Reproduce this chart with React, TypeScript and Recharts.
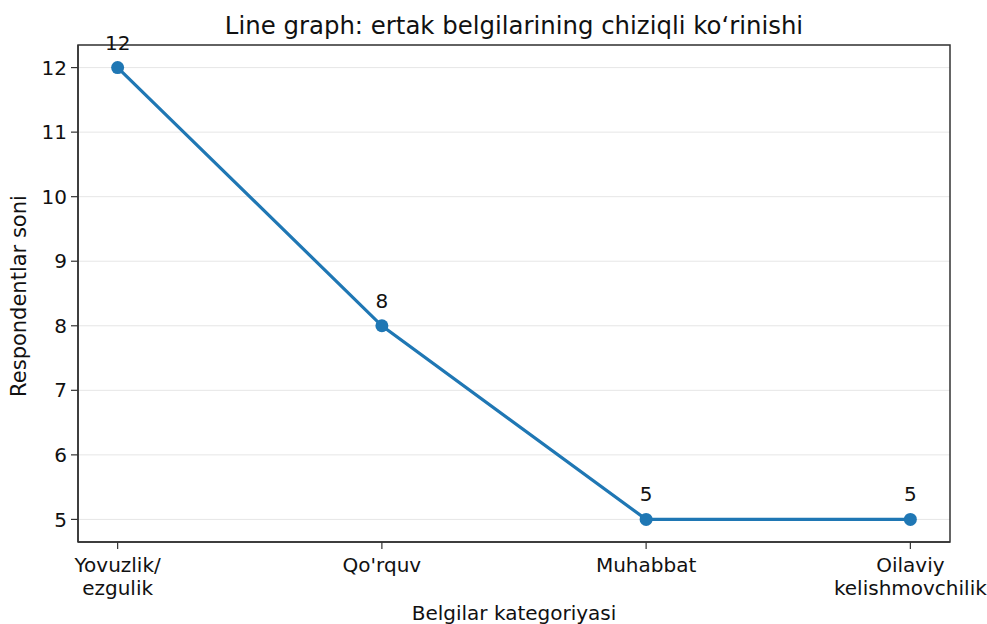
import React from "react";
import { LineChart, Line, XAxis, YAxis, CartesianGrid, LabelList, ReferenceArea } from "recharts";

const categories: string[][] = [["Yovuzlik/", "ezgulik"], ["Qo'rquv"], ["Muhabbat"], ["Oilaviy", "kelishmovchilik"]];
const values: number[] = [12, 8, 5, 5];
const yTicks: number[] = [5, 6, 7, 8, 9, 10, 11, 12];
const title = "Line graph: ertak belgilarining chiziqli ko‘rinishi";
const xLabel = "Belgilar kategoriyasi";
const yLabel = "Respondentlar soni";

const data = values.map((v, i) => ({ x: i, y: v }));
const FONT = "DejaVu Sans, sans-serif";
const FS = 20;
const XDOM: [number, number] = [-0.15, 3.15];
const YDOM: [number, number] = [4.65, 12.35];

const XTick = (props: any) => {
  const { x, y, payload } = props;
  const lines = categories[payload.value] || [];
  return (
    <g>
      {lines.map((l, i) => (
        <text key={i} x={x} y={y + 21 + i * 22.5} textAnchor="middle" fontFamily={FONT} fontSize={FS} fill="#111">
          {l}
        </text>
      ))}
    </g>
  );
};

export default function App() {
  return (
    <div style={{ position: "absolute", left: 0, top: 0, width: 987, height: 624, background: "#fff" }}>
      <LineChart width={987} height={624} data={data} margin={{ top: 45, right: 37, bottom: 0, left: 18 }}>
        <CartesianGrid horizontal vertical={false} stroke="#e6e6e6" strokeWidth={1} />
        <XAxis
          dataKey="x"
          type="number"
          domain={XDOM}
          ticks={[0, 1, 2, 3]}
          tick={<XTick />}
          tickSize={7}
          tickLine={{ stroke: "#333", strokeWidth: 1.2 }}
          axisLine={{ stroke: "#333", strokeWidth: 1.5 }}
          height={82}
          interval={0}
        />
        <YAxis
          type="number"
          domain={YDOM}
          ticks={yTicks}
          interval={0}
          width={60}
          tickSize={7}
          tickMargin={4}
          tickLine={{ stroke: "#333", strokeWidth: 1.2 }}
          axisLine={{ stroke: "#333", strokeWidth: 1.5 }}
          tick={{ fontFamily: FONT, fontSize: FS, fill: "#111" }}
        />
        <ReferenceArea x1={XDOM[0]} x2={XDOM[1]} y1={YDOM[0]} y2={YDOM[1]} fill="none" fillOpacity={0} stroke="#333" strokeWidth={1.5} ifOverflow="visible" />
        <Line
          dataKey="y"
          stroke="#1f77b4"
          strokeWidth={3.2}
          dot={{ r: 6.5, fill: "#1f77b4", stroke: "#1f77b4", strokeWidth: 0 }}
          isAnimationActive={false}
        >
          <LabelList dataKey="y" position="top" offset={18} fontFamily={FONT} fontSize={FS} fill="#111" />
        </Line>
        <text x={514} y={34} textAnchor="middle" fontFamily={FONT} fontSize={24.4} fill="#111">{title}</text>
        <text x={514} y={620} textAnchor="middle" fontFamily={FONT} fontSize={20} fill="#111">{xLabel}</text>
        <text x={26} y={296} textAnchor="middle" fontFamily={FONT} fontSize={21} fill="#111" transform="rotate(-90 26 296)">{yLabel}</text>
      </LineChart>
    </div>
  );
}
